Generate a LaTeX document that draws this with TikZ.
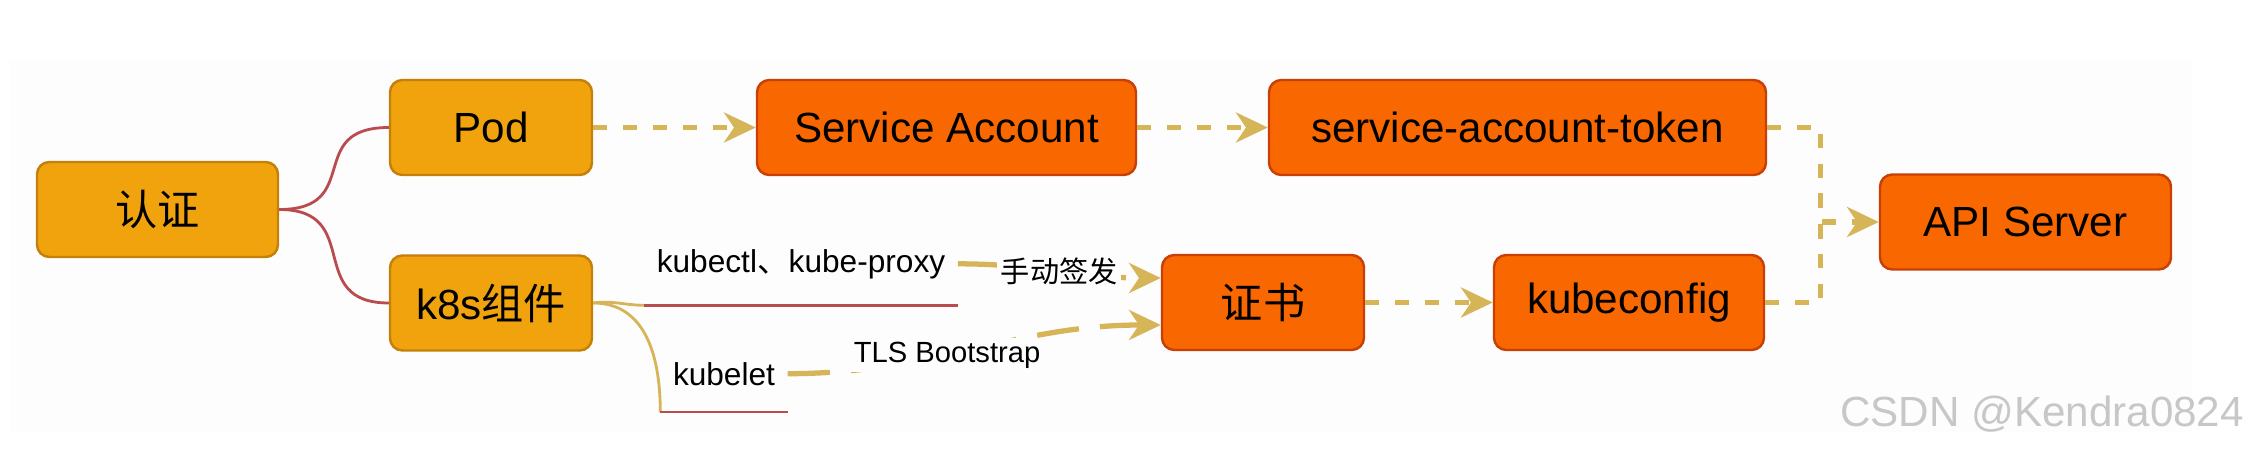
\documentclass[tikz,border=0pt]{standalone}
\usepackage{fontspec}
\setmainfont{Liberation Sans}
\newfontfamily\cjk{Noto Sans CJK SC}
\usepackage{tikz}
\usetikzlibrary{arrows.meta}
\usepackage{xcolor}
\definecolor{mygold}{RGB}{240,163,12}
\definecolor{mygoldline}{RGB}{196,128,8}
\definecolor{myorange}{RGB}{249,104,0}
\definecolor{myorangeline}{RGB}{200,64,8}
\definecolor{mydash}{RGB}{214,180,88}
\definecolor{myred}{RGB}{186,76,80}
\definecolor{mybg}{RGB}{253,253,253}

\begin{document}
\begin{tikzpicture}[x=1cm, y=1cm, >={Stealth[length=9pt,width=8.5pt,inset=2.8pt]},
    box/.style={rounded corners=3.5pt, line width=0.7pt, minimum height=0.95cm, inner sep=0pt, font=\fontsize{12}{14}\selectfont},
    topbox/.style={box, fill=mygold, draw=mygoldline},
    hotbox/.style={box, fill=myorange, draw=myorangeline},
    topic/.style={inner xsep=0.12cm, inner ysep=0.26cm, anchor=base, font=\fontsize{9}{11}\selectfont},
    lbl/.style={fill=mybg, text=black, inner sep=1pt, font=\fontsize{8.3}{10}\selectfont},
    flow/.style={->, mydash, line width=1.5pt, dash pattern=on 4pt off 4.5pt},
    rel/.style={->, mydash, line width=1.5pt, dash pattern=on 12pt off 6pt},
    branch/.style={myred, line width=0.8pt},
    twig/.style={mydash, line width=0.8pt}]
                \useasboundingbox (0,0) rectangle (22.53,4.5);
                \fill[mybg] (0.10,0.17) rectangle (21.92,3.89);
                % mind map part
                \node[topbox, minimum width=2.41cm] (auth) at (1.575,2.405) {\cjk 认证};
                \node[topbox, minimum width=2.02cm] (pod)  at (4.91,3.225) {Pod};
                \node[topbox, minimum width=2.02cm] (comp) at (4.91,1.47) {k8s{\cjk 组件}};
                \node[topic] (proxy)   at (8.01,1.78) {kubectl{\cjk 、}kube-proxy};
                \node[topic] (kubelet) at (7.24,0.65) {kubelet};
                \draw[branch] (auth.east) .. controls +(0.85,0) and +(-0.85,0) .. (pod.west);
                \draw[branch] (auth.east) .. controls +(0.85,0) and +(-0.85,0) .. (comp.west);
                \draw[twig] (comp.east) to[out=8, in=180] (proxy.south west);
                \draw[twig] (comp.east) .. controls +(0.5,0) and +(0,0.6) .. (kubelet.south west);
                \draw[branch] (proxy.south west) -- (proxy.south east);
                \draw[branch] (kubelet.south west) -- (kubelet.south east);
                % credentials
                \node[hotbox, minimum width=3.79cm] (sa)    at (9.465,3.225) {Service Account};
                \node[hotbox, minimum width=4.97cm] (token) at (15.175,3.225) {service-account-token};
                \node[hotbox, minimum width=2.02cm] (cert)  at (12.63,1.475) {\cjk 证书};
                \node[hotbox, minimum width=2.70cm] (kcfg)  at (16.29,1.475) {kubeconfig};
                \node[hotbox, minimum width=2.91cm] (api)   at (20.255,2.28) {API Server};
                \coordinate (join) at ([xshift=-0.58cm]api.west);
                % dashed links
                \draw[flow] (pod) -- (sa);
                \draw[flow] (sa) -- (token);
                \draw[flow] (cert) -- (kcfg);
                \draw[flow] (token.east) -| (join) -- (api.west);
                \draw[flow, -] (kcfg.east) -| (join);
                \draw[rel] (proxy.east) to[out=0, in=180]
                    node[lbl] {\cjk 手动签发} ([yshift=0.245cm]cert.west);
                \draw[rel] (kubelet.east) to[out=0, in=180]
                    node[lbl, pos=0.42] {TLS Bootstrap} ([yshift=-0.225cm]cert.west);
                \node[anchor=base, text=black!22, font=\fontsize{12}{14}\selectfont] (mark) at (20.42,0.23) {CSDN @Kendra0824};
\end{tikzpicture}
\end{document}
